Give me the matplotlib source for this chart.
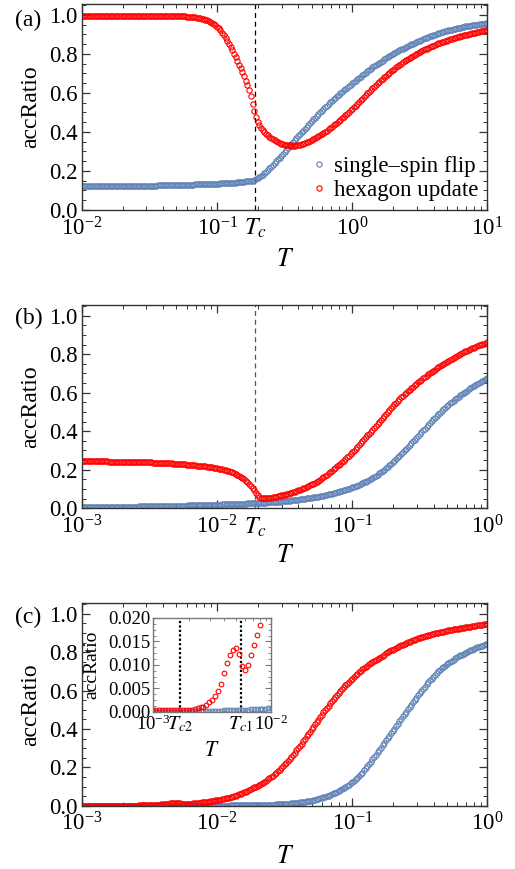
import numpy as np
import matplotlib
matplotlib.use('Agg')
import matplotlib.pyplot as plt
from matplotlib.ticker import LogLocator, NullFormatter, MultipleLocator, FormatStrFormatter

plt.rcParams['font.family'] = ['Liberation Serif', 'DejaVu Serif']
plt.rcParams['mathtext.fontset'] = 'stix'

# ---------------- data ----------------
# temperature grids (log-spaced sampling, 80 points per decade)
T_a = np.logspace(-2, 1, 241)
T_bc = np.logspace(-3, 0, 241)

# panel (a)
a_single = [
    0.124, 0.124, 0.124, 0.124, 0.124, 0.124, 0.124, 0.124, 0.124, 0.124, 0.124, 0.124, 0.124, 0.124, 0.124, 0.124, 0.124, 0.124, 0.124, 0.124,
    0.124, 0.124, 0.124, 0.124, 0.124, 0.124, 0.124, 0.124, 0.125, 0.125, 0.125, 0.125, 0.125, 0.125, 0.125, 0.125, 0.125, 0.125, 0.125, 0.125,
    0.125, 0.125, 0.125, 0.125, 0.125, 0.126, 0.126, 0.126, 0.126, 0.126, 0.126, 0.127, 0.127, 0.127, 0.127, 0.128, 0.128, 0.128, 0.128, 0.128,
    0.129, 0.129, 0.129, 0.130, 0.130, 0.130, 0.130, 0.131, 0.131, 0.131, 0.131, 0.132, 0.132, 0.132, 0.133, 0.133, 0.133, 0.134, 0.134, 0.134,
    0.135, 0.135, 0.136, 0.136, 0.137, 0.137, 0.138, 0.138, 0.139, 0.139, 0.140, 0.140, 0.141, 0.142, 0.143, 0.144, 0.145, 0.146, 0.147, 0.148,
    0.149, 0.151, 0.153, 0.157, 0.162, 0.168, 0.174, 0.181, 0.189, 0.197, 0.205, 0.213, 0.222, 0.231, 0.240, 0.249, 0.259, 0.268, 0.278, 0.287,
    0.297, 0.307, 0.317, 0.327, 0.337, 0.347, 0.357, 0.367, 0.377, 0.387, 0.397, 0.407, 0.417, 0.427, 0.436, 0.446, 0.455, 0.464, 0.473, 0.482,
    0.491, 0.500, 0.509, 0.518, 0.526, 0.535, 0.543, 0.551, 0.559, 0.567, 0.575, 0.583, 0.591, 0.599, 0.606, 0.613, 0.620, 0.627, 0.634, 0.641,
    0.648, 0.655, 0.662, 0.669, 0.676, 0.683, 0.690, 0.697, 0.704, 0.711, 0.717, 0.724, 0.730, 0.736, 0.742, 0.748, 0.754, 0.760, 0.765, 0.771,
    0.776, 0.782, 0.787, 0.792, 0.797, 0.802, 0.807, 0.812, 0.817, 0.822, 0.826, 0.831, 0.835, 0.840, 0.844, 0.848, 0.852, 0.856, 0.860, 0.864,
    0.868, 0.872, 0.875, 0.879, 0.882, 0.886, 0.889, 0.892, 0.895, 0.898, 0.901, 0.904, 0.907, 0.910, 0.912, 0.915, 0.917, 0.920, 0.922, 0.924,
    0.926, 0.928, 0.930, 0.932, 0.934, 0.936, 0.938, 0.940, 0.941, 0.943, 0.944, 0.946, 0.947, 0.949, 0.950, 0.951, 0.952, 0.954, 0.955, 0.956,
    0.957]
a_hexagon = [
    0.995, 0.995, 0.995, 0.995, 0.995, 0.995, 0.995, 0.995, 0.995, 0.995, 0.995, 0.995, 0.995, 0.995, 0.995, 0.995, 0.995, 0.995, 0.995, 0.995,
    0.995, 0.995, 0.995, 0.995, 0.995, 0.995, 0.995, 0.995, 0.995, 0.995, 0.995, 0.995, 0.995, 0.995, 0.995, 0.995, 0.995, 0.995, 0.995, 0.995,
    0.995, 0.995, 0.995, 0.995, 0.995, 0.995, 0.995, 0.995, 0.995, 0.995, 0.994, 0.994, 0.994, 0.994, 0.993, 0.993, 0.993, 0.993, 0.992, 0.992,
    0.991, 0.991, 0.990, 0.990, 0.989, 0.988, 0.987, 0.986, 0.985, 0.984, 0.982, 0.980, 0.977, 0.974, 0.971, 0.967, 0.963, 0.958, 0.952, 0.946,
    0.938, 0.930, 0.920, 0.909, 0.897, 0.883, 0.868, 0.851, 0.833, 0.817, 0.800, 0.783, 0.765, 0.745, 0.725, 0.705, 0.685, 0.663, 0.640, 0.614,
    0.585, 0.545, 0.505, 0.475, 0.452, 0.435, 0.421, 0.410, 0.400, 0.391, 0.383, 0.375, 0.368, 0.362, 0.356, 0.351, 0.347, 0.343, 0.340, 0.337,
    0.335, 0.333, 0.332, 0.331, 0.330, 0.330, 0.330, 0.331, 0.332, 0.334, 0.336, 0.339, 0.342, 0.346, 0.350, 0.354, 0.358, 0.362, 0.367, 0.372,
    0.377, 0.382, 0.388, 0.394, 0.400, 0.406, 0.413, 0.419, 0.426, 0.433, 0.440, 0.447, 0.455, 0.462, 0.470, 0.478, 0.486, 0.494, 0.502, 0.510,
    0.518, 0.526, 0.535, 0.543, 0.552, 0.561, 0.570, 0.579, 0.588, 0.597, 0.606, 0.614, 0.623, 0.632, 0.640, 0.649, 0.657, 0.665, 0.673, 0.681,
    0.688, 0.696, 0.703, 0.710, 0.717, 0.724, 0.731, 0.738, 0.744, 0.750, 0.756, 0.762, 0.768, 0.774, 0.779, 0.784, 0.789, 0.794, 0.799, 0.804,
    0.808, 0.813, 0.817, 0.822, 0.826, 0.830, 0.834, 0.838, 0.842, 0.846, 0.849, 0.853, 0.856, 0.859, 0.862, 0.865, 0.868, 0.871, 0.874, 0.877,
    0.879, 0.882, 0.884, 0.887, 0.889, 0.892, 0.894, 0.896, 0.898, 0.901, 0.903, 0.905, 0.907, 0.909, 0.911, 0.913, 0.915, 0.917, 0.919, 0.921,
    0.922]

# panel (b)
b_single = [
    0.007, 0.007, 0.007, 0.007, 0.007, 0.007, 0.007, 0.007, 0.007, 0.007, 0.008, 0.008, 0.008, 0.008, 0.008, 0.008, 0.008, 0.008, 0.008, 0.008,
    0.008, 0.008, 0.008, 0.008, 0.008, 0.008, 0.009, 0.009, 0.009, 0.009, 0.009, 0.009, 0.009, 0.009, 0.010, 0.010, 0.010, 0.010, 0.010, 0.010,
    0.010, 0.010, 0.011, 0.011, 0.011, 0.011, 0.011, 0.012, 0.012, 0.012, 0.012, 0.012, 0.012, 0.013, 0.013, 0.013, 0.013, 0.013, 0.013, 0.014,
    0.014, 0.014, 0.014, 0.015, 0.015, 0.015, 0.015, 0.016, 0.016, 0.016, 0.016, 0.017, 0.017, 0.017, 0.017, 0.018, 0.018, 0.018, 0.018, 0.019,
    0.019, 0.019, 0.019, 0.020, 0.020, 0.020, 0.021, 0.021, 0.021, 0.022, 0.022, 0.022, 0.023, 0.023, 0.023, 0.024, 0.024, 0.024, 0.025, 0.025,
    0.026, 0.026, 0.027, 0.027, 0.028, 0.028, 0.029, 0.029, 0.030, 0.030, 0.031, 0.031, 0.032, 0.032, 0.033, 0.033, 0.034, 0.035, 0.036, 0.036,
    0.037, 0.038, 0.039, 0.040, 0.041, 0.042, 0.043, 0.044, 0.045, 0.046, 0.047, 0.048, 0.050, 0.051, 0.052, 0.054, 0.055, 0.057, 0.058, 0.060,
    0.061, 0.062, 0.064, 0.066, 0.068, 0.070, 0.072, 0.074, 0.076, 0.078, 0.080, 0.083, 0.085, 0.088, 0.090, 0.093, 0.095, 0.098, 0.100, 0.104,
    0.108, 0.111, 0.115, 0.118, 0.122, 0.126, 0.130, 0.134, 0.139, 0.143, 0.148, 0.153, 0.158, 0.163, 0.169, 0.175, 0.181, 0.187, 0.194, 0.201,
    0.208, 0.215, 0.223, 0.231, 0.239, 0.247, 0.256, 0.264, 0.273, 0.282, 0.291, 0.300, 0.310, 0.319, 0.329, 0.338, 0.348, 0.357, 0.367, 0.376,
    0.386, 0.395, 0.405, 0.414, 0.424, 0.433, 0.443, 0.452, 0.461, 0.470, 0.479, 0.487, 0.496, 0.504, 0.513, 0.521, 0.529, 0.537, 0.545, 0.552,
    0.559, 0.566, 0.573, 0.580, 0.586, 0.593, 0.599, 0.605, 0.611, 0.617, 0.623, 0.629, 0.635, 0.640, 0.646, 0.651, 0.657, 0.662, 0.668, 0.673,
    0.678]
b_hexagon = [
    0.245, 0.245, 0.245, 0.245, 0.244, 0.244, 0.244, 0.244, 0.244, 0.244, 0.243, 0.243, 0.243, 0.243, 0.243, 0.243, 0.242, 0.242, 0.242, 0.242,
    0.242, 0.242, 0.241, 0.241, 0.241, 0.241, 0.241, 0.241, 0.240, 0.240, 0.240, 0.240, 0.239, 0.239, 0.239, 0.239, 0.239, 0.239, 0.238, 0.238,
    0.238, 0.238, 0.237, 0.237, 0.236, 0.236, 0.236, 0.236, 0.235, 0.235, 0.234, 0.234, 0.233, 0.233, 0.232, 0.232, 0.231, 0.231, 0.230, 0.229,
    0.228, 0.228, 0.227, 0.227, 0.226, 0.225, 0.224, 0.223, 0.222, 0.221, 0.220, 0.219, 0.218, 0.217, 0.216, 0.215, 0.213, 0.212, 0.211, 0.209,
    0.207, 0.206, 0.204, 0.202, 0.200, 0.198, 0.195, 0.193, 0.190, 0.187, 0.183, 0.179, 0.175, 0.170, 0.165, 0.159, 0.152, 0.144, 0.135, 0.126,
    0.117, 0.105, 0.093, 0.080, 0.067, 0.059, 0.055, 0.053, 0.052, 0.052, 0.053, 0.054, 0.055, 0.057, 0.059, 0.061, 0.063, 0.065, 0.067, 0.069,
    0.071, 0.073, 0.076, 0.078, 0.081, 0.084, 0.087, 0.090, 0.093, 0.096, 0.100, 0.103, 0.107, 0.111, 0.115, 0.119, 0.124, 0.128, 0.133, 0.138,
    0.143, 0.149, 0.155, 0.161, 0.167, 0.174, 0.181, 0.188, 0.195, 0.202, 0.210, 0.217, 0.225, 0.232, 0.240, 0.248, 0.256, 0.264, 0.272, 0.281,
    0.290, 0.299, 0.308, 0.318, 0.328, 0.338, 0.348, 0.358, 0.368, 0.378, 0.388, 0.398, 0.408, 0.418, 0.428, 0.438, 0.448, 0.458, 0.467, 0.479,
    0.490, 0.500, 0.510, 0.520, 0.529, 0.539, 0.548, 0.557, 0.566, 0.575, 0.583, 0.592, 0.600, 0.608, 0.616, 0.624, 0.631, 0.639, 0.646, 0.653,
    0.660, 0.667, 0.674, 0.681, 0.688, 0.695, 0.701, 0.708, 0.714, 0.720, 0.726, 0.732, 0.738, 0.744, 0.749, 0.755, 0.760, 0.765, 0.770, 0.775,
    0.780, 0.785, 0.790, 0.795, 0.800, 0.805, 0.809, 0.814, 0.818, 0.822, 0.826, 0.830, 0.834, 0.838, 0.841, 0.845, 0.848, 0.852, 0.855, 0.859,
    0.862]

# panel (c) (points below T = 1e-2 are also shown, every other one, in the inset)
c_single = [
    0.0000, 0.0000, 0.0000, 0.0000, 0.0000, 0.0000, 0.0000, 0.0000, 0.0000, 0.0000, 0.0000, 0.0000, 0.0000, 0.0000, 0.0000, 0.0000, 0.0000, 0.0000, 0.0000, 0.0000,
    0.0000, 0.0000, 0.0000, 0.0000, 0.0000, 0.0000, 0.0001, 0.0001, 0.0001, 0.0001, 0.0001, 0.0001, 0.0001, 0.0001, 0.0001, 0.0001, 0.0001, 0.0001, 0.0002, 0.0002,
    0.0002, 0.0002, 0.0002, 0.0002, 0.0002, 0.0002, 0.0002, 0.0002, 0.0003, 0.0003, 0.0003, 0.0003, 0.0003, 0.0003, 0.0003, 0.0003, 0.0003, 0.0003, 0.0004, 0.0004,
    0.0004, 0.0004, 0.0004, 0.0004, 0.0004, 0.0004, 0.0005, 0.0005, 0.0005, 0.0005, 0.0005, 0.0005, 0.0006, 0.0006, 0.0006, 0.0006, 0.0006, 0.0006, 0.0007, 0.0007,
    0.0007, 0.0007, 0.0008, 0.0008, 0.0009, 0.0009, 0.0010, 0.0010, 0.0011, 0.0011, 0.0012, 0.0012, 0.0013, 0.0014, 0.0015, 0.0016, 0.0017, 0.0018, 0.0019, 0.0020,
    0.0022, 0.0023, 0.0025, 0.0027, 0.0029, 0.0031, 0.0033, 0.0035, 0.0038, 0.0041, 0.0044, 0.0047, 0.0051, 0.0055, 0.0059, 0.0063, 0.0068, 0.0073, 0.0078, 0.0084,
    0.009, 0.0095, 0.010, 0.011, 0.012, 0.013, 0.014, 0.015, 0.016, 0.017, 0.018, 0.0195, 0.021, 0.0225, 0.024, 0.0255, 0.027, 0.029, 0.031, 0.0335,
    0.036, 0.0385, 0.041, 0.044, 0.047, 0.050, 0.053, 0.0565, 0.060, 0.064, 0.068, 0.0725, 0.077, 0.082, 0.087, 0.0925, 0.098, 0.104, 0.110, 0.1165,
    0.123, 0.130, 0.137, 0.145, 0.154, 0.163, 0.173, 0.185, 0.197, 0.208, 0.219, 0.230, 0.242, 0.254, 0.266, 0.278, 0.290, 0.302, 0.314, 0.327,
    0.340, 0.352, 0.365, 0.377, 0.390, 0.402, 0.415, 0.427, 0.440, 0.452, 0.465, 0.477, 0.490, 0.502, 0.515, 0.527, 0.539, 0.551, 0.563, 0.575,
    0.587, 0.599, 0.610, 0.621, 0.632, 0.643, 0.653, 0.663, 0.673, 0.682, 0.691, 0.700, 0.708, 0.716, 0.723, 0.730, 0.737, 0.744, 0.750, 0.756,
    0.762, 0.768, 0.773, 0.778, 0.783, 0.788, 0.793, 0.798, 0.802, 0.806, 0.810, 0.814, 0.818, 0.822, 0.825, 0.829, 0.832, 0.835, 0.838, 0.841,
    0.844]
c_hexagon = [
    0.0003, 0.0003, 0.0003, 0.0003, 0.0003, 0.0003, 0.0003, 0.0003, 0.0003, 0.0003, 0.0003, 0.0003, 0.0003, 0.0003, 0.0003, 0.0003, 0.0003, 0.0003, 0.0003, 0.0003,
    0.0003, 0.0003, 0.0003, 0.0003, 0.0004, 0.0004, 0.0004, 0.0004, 0.0005, 0.0006, 0.0007, 0.0008, 0.0009, 0.0010, 0.0011, 0.0013, 0.0015, 0.0017, 0.0020, 0.0023,
    0.0026, 0.0029, 0.0033, 0.0039, 0.0045, 0.0052, 0.0060, 0.0070, 0.0082, 0.0093, 0.0104, 0.0114, 0.0122, 0.0127, 0.0131, 0.0134, 0.0136, 0.0132, 0.0124, 0.0110,
    0.0098, 0.0091, 0.0089, 0.0093, 0.0100, 0.0110, 0.0120, 0.0131, 0.0142, 0.0153, 0.0164, 0.0174, 0.0185, 0.0195, 0.0206, 0.0218, 0.0230, 0.0244, 0.0258, 0.0273,
    0.029, 0.0305, 0.032, 0.034, 0.036, 0.038, 0.040, 0.042, 0.044, 0.0465, 0.049, 0.052, 0.055, 0.0585, 0.062, 0.0655, 0.069, 0.073, 0.077, 0.0815,
    0.086, 0.0905, 0.095, 0.0995, 0.104, 0.109, 0.114, 0.1195, 0.125, 0.131, 0.137, 0.1435, 0.150, 0.157, 0.164, 0.1715, 0.179, 0.1875, 0.196, 0.2055,
    0.215, 0.2245, 0.234, 0.2445, 0.255, 0.266, 0.277, 0.2885, 0.300, 0.312, 0.324, 0.3365, 0.349, 0.3615, 0.374, 0.3865, 0.399, 0.4115, 0.424, 0.4365,
    0.449, 0.4615, 0.474, 0.486, 0.498, 0.510, 0.522, 0.5335, 0.545, 0.556, 0.567, 0.5775, 0.588, 0.598, 0.608, 0.6175, 0.627, 0.636, 0.645, 0.6535,
    0.662, 0.6705, 0.679, 0.687, 0.695, 0.7025, 0.710, 0.717, 0.724, 0.7305, 0.737, 0.743, 0.749, 0.755, 0.761, 0.7665, 0.772, 0.777, 0.782, 0.788,
    0.794, 0.799, 0.804, 0.809, 0.814, 0.8185, 0.823, 0.8275, 0.832, 0.836, 0.840, 0.844, 0.848, 0.8515, 0.855, 0.8585, 0.862, 0.8655, 0.869, 0.872,
    0.875, 0.878, 0.881, 0.8835, 0.886, 0.8885, 0.891, 0.8935, 0.896, 0.898, 0.900, 0.902, 0.904, 0.906, 0.908, 0.910, 0.912, 0.914, 0.916, 0.9175,
    0.919, 0.9205, 0.922, 0.9235, 0.925, 0.9265, 0.928, 0.9295, 0.931, 0.9325, 0.934, 0.9355, 0.937, 0.9385, 0.940, 0.941, 0.942, 0.9435, 0.945, 0.946,
    0.947]

INSET_END = 81      # points with T <= 1e-2
INSET_STEP = 2
Tc_a = 0.192
Tc_b = 0.0192
Tc1_c = 5.53e-3
Tc2_c = 1.68e-3

labels = ['single\u2013spin flip', 'hexagon update']
panel_tags = ['(a)', '(b)', '(c)']

BLUE = '#5E81B5'
RED = '#FF0000'
FS = 16.5
FS_IN = 13.5
SPINE = '#333333'

# ---------------- figure ----------------
fig = plt.figure(figsize=(5.15, 8.69), dpi=100)
W, H = 515.0, 869.0


def px_axes(left, top, right, bottom):
    return [left / W, 1 - bottom / H, (right - left) / W, (bottom - top) / H]


def style_main(ax, xlim, xlab_y):
    ax.set_xscale('log')
    ax.set_xlim(*xlim)
    ax.set_ylim(0, 1.055)
    ax.xaxis.set_major_locator(LogLocator(base=10, numticks=10))
    ax.xaxis.set_minor_locator(LogLocator(base=10, subs=np.arange(2, 10), numticks=100))
    ax.xaxis.set_minor_formatter(NullFormatter())
    ax.yaxis.set_major_locator(MultipleLocator(0.2))
    ax.yaxis.set_minor_locator(MultipleLocator(0.05))
    ax.yaxis.set_major_formatter(FormatStrFormatter('%.1f'))
    ax.tick_params(which='both', direction='in', top=True, right=True,
                   color=SPINE, labelsize=FS)
    ax.tick_params(which='major', length=6, width=0.9)
    ax.tick_params(which='minor', length=3, width=0.7)
    ax.tick_params(axis='x', which='major', pad=5)
    ax.tick_params(axis='y', which='major', pad=3)
    for s in ax.spines.values():
        s.set_color(SPINE)
        s.set_linewidth(1.0)
    ax.set_ylabel('accRatio', fontsize=FS + 0.5)
    ax.yaxis.set_label_coords(-0.101, 0.5)
    ax.set_xlabel(r'$T$', fontsize=FS + 2)
    ax.xaxis.set_label_coords(0.5, xlab_y)


def plot_pair(ax, T, single, hexa, ms=3.8, mew=0.8):
    h1, = ax.plot(T, single, linestyle='none', marker='o', ms=ms,
                  mfc='none', mec=BLUE, mew=mew, label=labels[0])
    h2, = ax.plot(T, hexa, linestyle='none', marker='o', ms=ms,
                  mfc='none', mec=RED, mew=mew, label=labels[1])
    return h1, h2


def tc_label(ax, x, text, fs, dy=-5):
    ax.annotate(text, xy=(x, 0), xycoords=('data', 'axes fraction'),
                xytext=(0, dy), textcoords='offset points',
                ha='center', va='top', fontsize=fs)


# (a)
ax_a = fig.add_axes(px_axes(82, 4, 487.3, 210))
style_main(ax_a, (1e-2, 1e1), -0.19)
ax_a.axvline(Tc_a, color='black', linestyle=(0, (4, 3)), linewidth=0.9, zorder=1)
h1, h2 = plot_pair(ax_a, T_a, a_single, a_hexagon)
tc_label(ax_a, Tc_a, r'$T_c$', FS + 1)
ax_a.legend(handles=[h1, h2], loc='lower right', frameon=False, fontsize=FS,
            handletextpad=0.15, handlelength=1.0, labelspacing=0.12,
            borderaxespad=0.2, markerscale=1.0, borderpad=0.2, numpoints=1)

# (b)
ax_b = fig.add_axes(px_axes(82, 305, 487.3, 508.3))
style_main(ax_b, (1e-3, 1e0), -0.18)
ax_b.axvline(Tc_b, color='#555555', linestyle=(0, (4, 3)), linewidth=0.9, zorder=1)
plot_pair(ax_b, T_bc, b_single, b_hexagon)
tc_label(ax_b, Tc_b, r'$T_c$', FS + 1)

# (c)
ax_c = fig.add_axes(px_axes(82, 603.3, 487.3, 805.7))
style_main(ax_c, (1e-3, 1e0), -0.2)
plot_pair(ax_c, T_bc, c_single, c_hexagon)

# inset
ax_in = fig.add_axes(px_axes(153.3, 618, 271.3, 711.7))
ax_in.set_facecolor('white')
ax_in.set_xscale('log')
ax_in.set_xlim(1e-3, 1e-2)
ax_in.set_ylim(0, 0.02)
ax_in.axvline(Tc2_c, color='black', linestyle=(0, (1, 1)), linewidth=1.6, zorder=1)
ax_in.axvline(Tc1_c, color='black', linestyle=(0, (1, 1)), linewidth=1.6, zorder=1)
sl = slice(0, INSET_END, INSET_STEP)
plot_pair(ax_in, T_bc[sl], c_single[sl], c_hexagon[sl], ms=3.4, mew=0.8)
ax_in.xaxis.set_major_locator(LogLocator(base=10, numticks=10))
ax_in.xaxis.set_minor_locator(LogLocator(base=10, subs=np.arange(2, 10), numticks=100))
ax_in.xaxis.set_minor_formatter(NullFormatter())
ax_in.yaxis.set_major_locator(MultipleLocator(0.005))
ax_in.yaxis.set_minor_locator(MultipleLocator(0.00125))
ax_in.yaxis.set_major_formatter(FormatStrFormatter('%.3f'))
ax_in.tick_params(which='both', direction='in', top=True, right=True,
                  color='#777777', labelsize=FS_IN)
ax_in.tick_params(which='major', length=4, width=0.8, pad=2)
ax_in.tick_params(which='minor', length=2, width=0.6)
for s in ax_in.spines.values():
    s.set_color('#777777')
    s.set_linewidth(1.0)
tc_label(ax_in, Tc2_c, r'$T_{c2}$', FS_IN + 1, dy=-2)
tc_label(ax_in, Tc1_c, r'$T_{c1}$', FS_IN + 1, dy=-2)
ax_in.set_ylabel('accRatio', fontsize=FS_IN + 0.5)
ax_in.yaxis.set_label_coords(-0.45, 0.5)
ax_in.set_xlabel(r'$T$', fontsize=FS_IN + 2)
ax_in.xaxis.set_label_coords(0.5, -0.32)

# panel tags
for tag, yc in zip(panel_tags, [20, 318, 617]):
    fig.text(15 / W, 1 - yc / H, tag, fontsize=FS + 0.5, ha='left', va='center')

fig.savefig('out.png', dpi=100)
